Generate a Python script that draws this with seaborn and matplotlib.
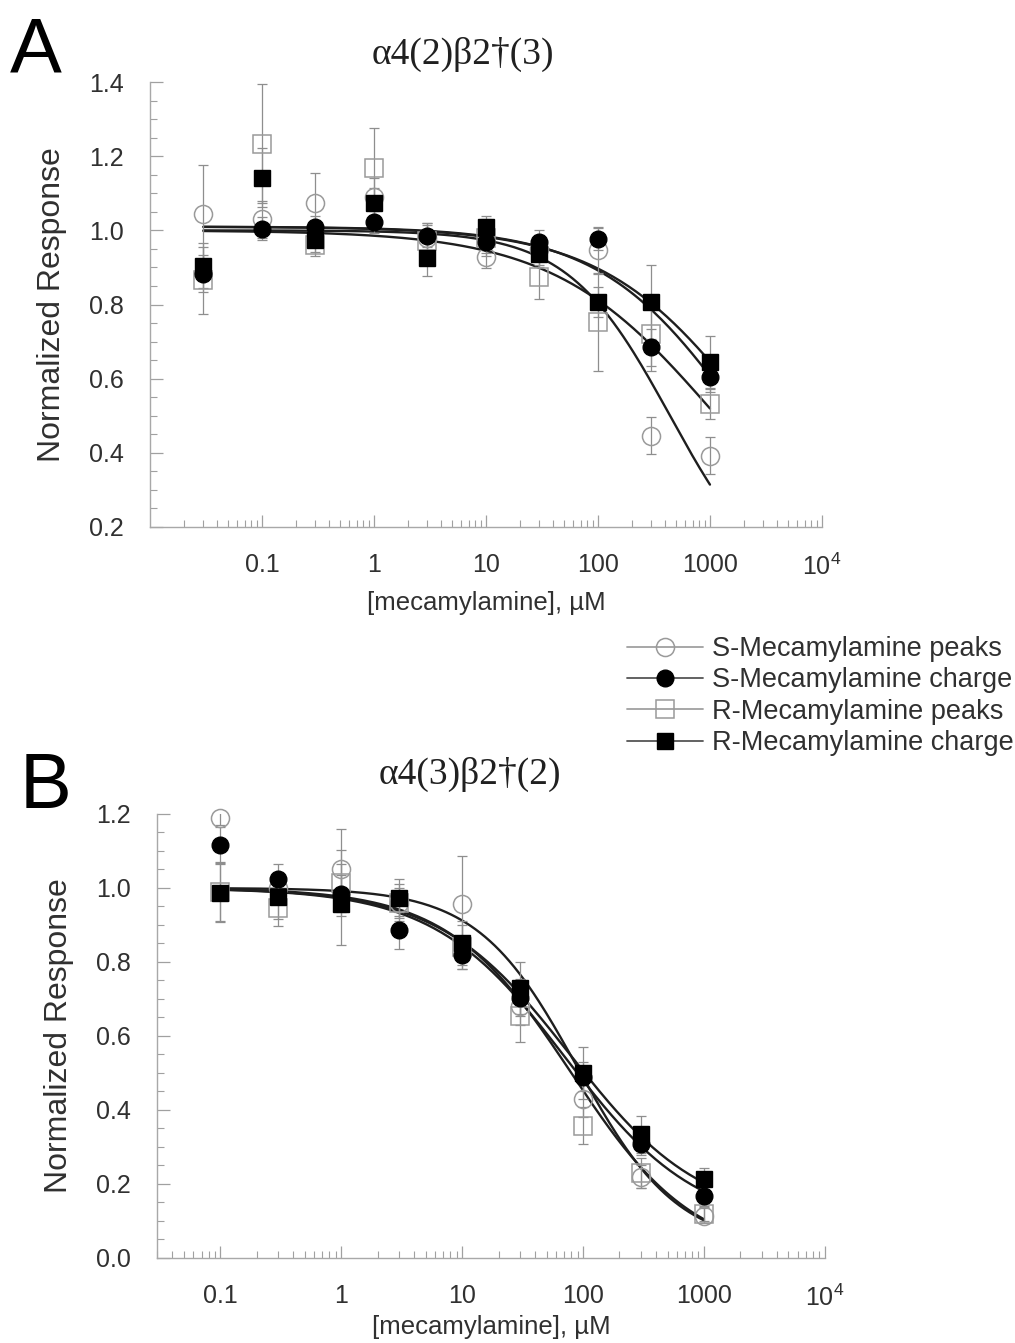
import numpy as np
import pandas as pd
import matplotlib
matplotlib.use('Agg')
import matplotlib.pyplot as plt
import seaborn as sns
from matplotlib.lines import Line2D
from matplotlib.ticker import FixedLocator, FixedFormatter, LogLocator, MultipleLocator, NullFormatter

# series order: S peaks, S charge, R peaks, R charge
labels = ['S-Mecamylamine peaks', 'S-Mecamylamine charge',
          'R-Mecamylamine peaks', 'R-Mecamylamine charge']

# panel A  alpha4(2)beta2(3)
dose_a = [0.03, 0.1, 0.3, 1, 3, 10, 30, 100, 300, 1000]
s_peaks_a = [1.045, 1.03, 1.074, 1.09, 0.98, 0.928, 0.95, 0.946, 0.446, 0.392]
s_peaks_a_err = [0.13, 0.05, 0.08, 0.05, 0.04, 0.03, 0.05, 0.06, 0.05, 0.05]
s_charge_a = [0.883, 1.005, 1.01, 1.023, 0.984, 0.968, 0.968, 0.978, 0.685, 0.604]
s_charge_a_err = [0.05, 0.03, 0.03, 0.03, 0.03, 0.03, 0.02, 0.03, 0.05, 0.04]
r_peaks_a = [0.865, 1.234, 0.96, 1.167, 0.97, 0.98, 0.874, 0.752, 0.72, 0.532]
r_peaks_a_err = [0.09, 0.16, 0.03, 0.11, 0.05, 0.05, 0.06, 0.13, 0.10, 0.04]
r_charge_a = [0.905, 1.142, 0.973, 1.074, 0.926, 1.01, 0.937, 0.806, 0.806, 0.644]
r_charge_a_err = [0.06, 0.08, 0.03, 0.04, 0.05, 0.03, 0.03, 0.04, 0.10, 0.07]
# fitted curves: top, bottom, IC50, hill slope
top_a = [1.0, 1.01, 1.0, 1.01]
bottom_a = [0.0, 0.0, 0.0, 0.0]
ic50_a = [440, 1800, 1140, 2420]
hill_a = [0.95, 0.7, 0.6, 0.65]

# panel B  alpha4(3)beta2(2)
dose_b = [0.1, 0.3, 1, 3, 10, 30, 100, 300, 1000]
s_peaks_b = [1.19, 1.0, 1.05, 0.96, 0.957, 0.68, 0.43, 0.22, 0.114]
s_peaks_b_err = [0.02, 0.04, 0.11, 0.04, 0.13, 0.05, 0.05, 0.03, 0.02]
s_charge_b = [1.116, 1.024, 0.985, 0.886, 0.82, 0.704, 0.49, 0.308, 0.168]
s_charge_b_err = [0.05, 0.04, 0.05, 0.05, 0.04, 0.05, 0.04, 0.03, 0.03]
r_peaks_b = [0.99, 0.947, 1.014, 0.96, 0.84, 0.654, 0.357, 0.23, 0.12]
r_peaks_b_err = [0.08, 0.05, 0.09, 0.05, 0.06, 0.07, 0.05, 0.04, 0.02]
r_charge_b = [0.987, 0.975, 0.956, 0.974, 0.852, 0.73, 0.50, 0.335, 0.213]
r_charge_b_err = [0.08, 0.06, 0.11, 0.05, 0.06, 0.07, 0.07, 0.05, 0.03]
top_b = [1.0, 1.0, 1.0, 1.0]
bottom_b = [0.03, 0.08, 0.0, 0.1]
ic50_b = [90, 72, 80, 78]
hill_b = [1.05, 0.8, 0.85, 0.8]

xtick_vals = [0.1, 1, 10, 100, 1000, 10000]
xtick_labels = ['0.1', '1', '10', '100', '1000', r'$\mathregular{10^4}$']

sns.set_style('ticks')
plt.rcParams['font.family'] = ['Liberation Sans', 'DejaVu Sans']
plt.rcParams['mathtext.fontset'] = 'custom'
plt.rcParams['mathtext.rm'] = 'Liberation Sans'

markers = ['o', 'o', 's', 's']
filled = [False, True, False, True]
gray = '#9a9a9a'


def hill(x, top, bottom, ic50, n):
    return bottom + (top - bottom) / (1 + (x / ic50) ** n)


def draw_panel(ax, dose, vals, errs, top, bottom, ic50, n, xlim, ylim, ystep, xpad):
    dose = np.array(dose)
    xs = np.logspace(np.log10(dose.min()), np.log10(dose.max()), 200)
    for i in range(4):
        curve = pd.DataFrame({'x': xs, 'y': hill(xs, top[i], bottom[i], ic50[i], n[i])})
        sns.lineplot(data=curve, x='x', y='y', color='#1e1e1e', lw=1.7,
                     estimator=None, sort=False, ax=ax, zorder=2)
    for i in [0, 2, 1, 3]:
        ax.errorbar(dose, vals[i], yerr=errs[i], fmt='none', ecolor='#8e8e8e',
                    elinewidth=0.9, capsize=3.5, capthick=0.9, zorder=3)
        if filled[i]:
            ax.plot(dose, vals[i], ls='none', marker=markers[i], ms=12,
                    mfc='black', mec='black', zorder=4, clip_on=False)
        else:
            ax.plot(dose, vals[i], ls='none', marker=markers[i], ms=13,
                    mfc='none', mec=gray, mew=1.1, zorder=4, clip_on=False)
    ax.set_xscale('log')
    ax.set_xlim(*xlim)
    ax.set_ylim(*ylim)
    ax.xaxis.set_major_locator(FixedLocator(xtick_vals))
    ax.xaxis.set_major_formatter(FixedFormatter(xtick_labels))
    ax.xaxis.set_minor_locator(LogLocator(base=10, subs=np.arange(2, 10)))
    ax.xaxis.set_minor_formatter(NullFormatter())
    yt = np.arange(ylim[0], ylim[1] + 1e-6, ystep)
    ax.set_yticks(yt)
    ax.set_yticklabels([f'{v:.1f}' for v in yt])
    ax.yaxis.set_minor_locator(MultipleLocator(0.05))
    ax.tick_params(which='major', direction='in', length=9, width=0.9,
                   color='#a0a0a0', labelsize=18, labelcolor='#303030', pad=19)
    ax.tick_params(which='minor', direction='in', length=5, width=0.8, color='#a0a0a0')
    for s in ['top', 'right']:
        ax.spines[s].set_visible(False)
    for s in ['left', 'bottom']:
        ax.spines[s].set_color('#a8a8a8')
        ax.spines[s].set_linewidth(1.0)
    ax.set_xlabel('[mecamylamine], µM', fontsize=18.5, color='#303030', labelpad=xpad)
    ax.set_ylabel('Normalized Response', fontsize=23, color='#303030', labelpad=16)


fig = plt.figure(figsize=(10.15, 13.43), dpi=100)
ax_a = fig.add_axes([0.1478, 0.6076, 0.662, 0.3313])
ax_b = fig.add_axes([0.1547, 0.0633, 0.658, 0.3306])

draw_panel(ax_a, dose_a,
           [s_peaks_a, s_charge_a, r_peaks_a, r_charge_a],
           [s_peaks_a_err, s_charge_a_err, r_peaks_a_err, r_charge_a_err],
           top_a, bottom_a, ic50_a, hill_a, (0.01, 1e4), (0.2, 1.4), 0.2, 8)
draw_panel(ax_b, dose_b,
           [s_peaks_b, s_charge_b, r_peaks_b, r_charge_b],
           [s_peaks_b_err, s_charge_b_err, r_peaks_b_err, r_charge_b_err],
           top_b, bottom_b, ic50_b, hill_b, (0.03, 1e4), (0.0, 1.2), 0.2, 3)

# titles and panel letters
serif = ['Liberation Serif', 'DejaVu Serif']
fig.text(463 / 1015, 1 - 64 / 1343, 'α4(2)β2†(3)', family=serif,
         fontsize=27, ha='center', va='baseline', color='#202020')
fig.text(470 / 1015, 1 - 784 / 1343, 'α4(3)β2†(2)', family=serif,
         fontsize=27, ha='center', va='baseline', color='#202020')
fig.text(10 / 1015, 1 - 73 / 1343, 'A', fontsize=56, va='baseline', color='black')
fig.text(20 / 1015, 1 - 808 / 1343, 'B', fontsize=56, va='baseline', color='black')

# legend between the panels
handles = []
for i in range(4):
    if filled[i]:
        handles.append(Line2D([], [], color='#555555', lw=1.3, marker=markers[i],
                              ms=12, mfc='black', mec='black'))
    else:
        handles.append(Line2D([], [], color='#a0a0a0', lw=1.3, marker=markers[i],
                              ms=13, mfc='none', mec=gray, mew=1.1))
fig.legend(handles, labels, loc='upper left', bbox_to_anchor=(627 / 1015, 1 - 636 / 1343),
           frameon=False, fontsize=19.5, handlelength=2.8, handletextpad=0.35,
           labelspacing=0.2, borderpad=0, borderaxespad=0, labelcolor='#303030')

fig.savefig('out.png', dpi=100)
